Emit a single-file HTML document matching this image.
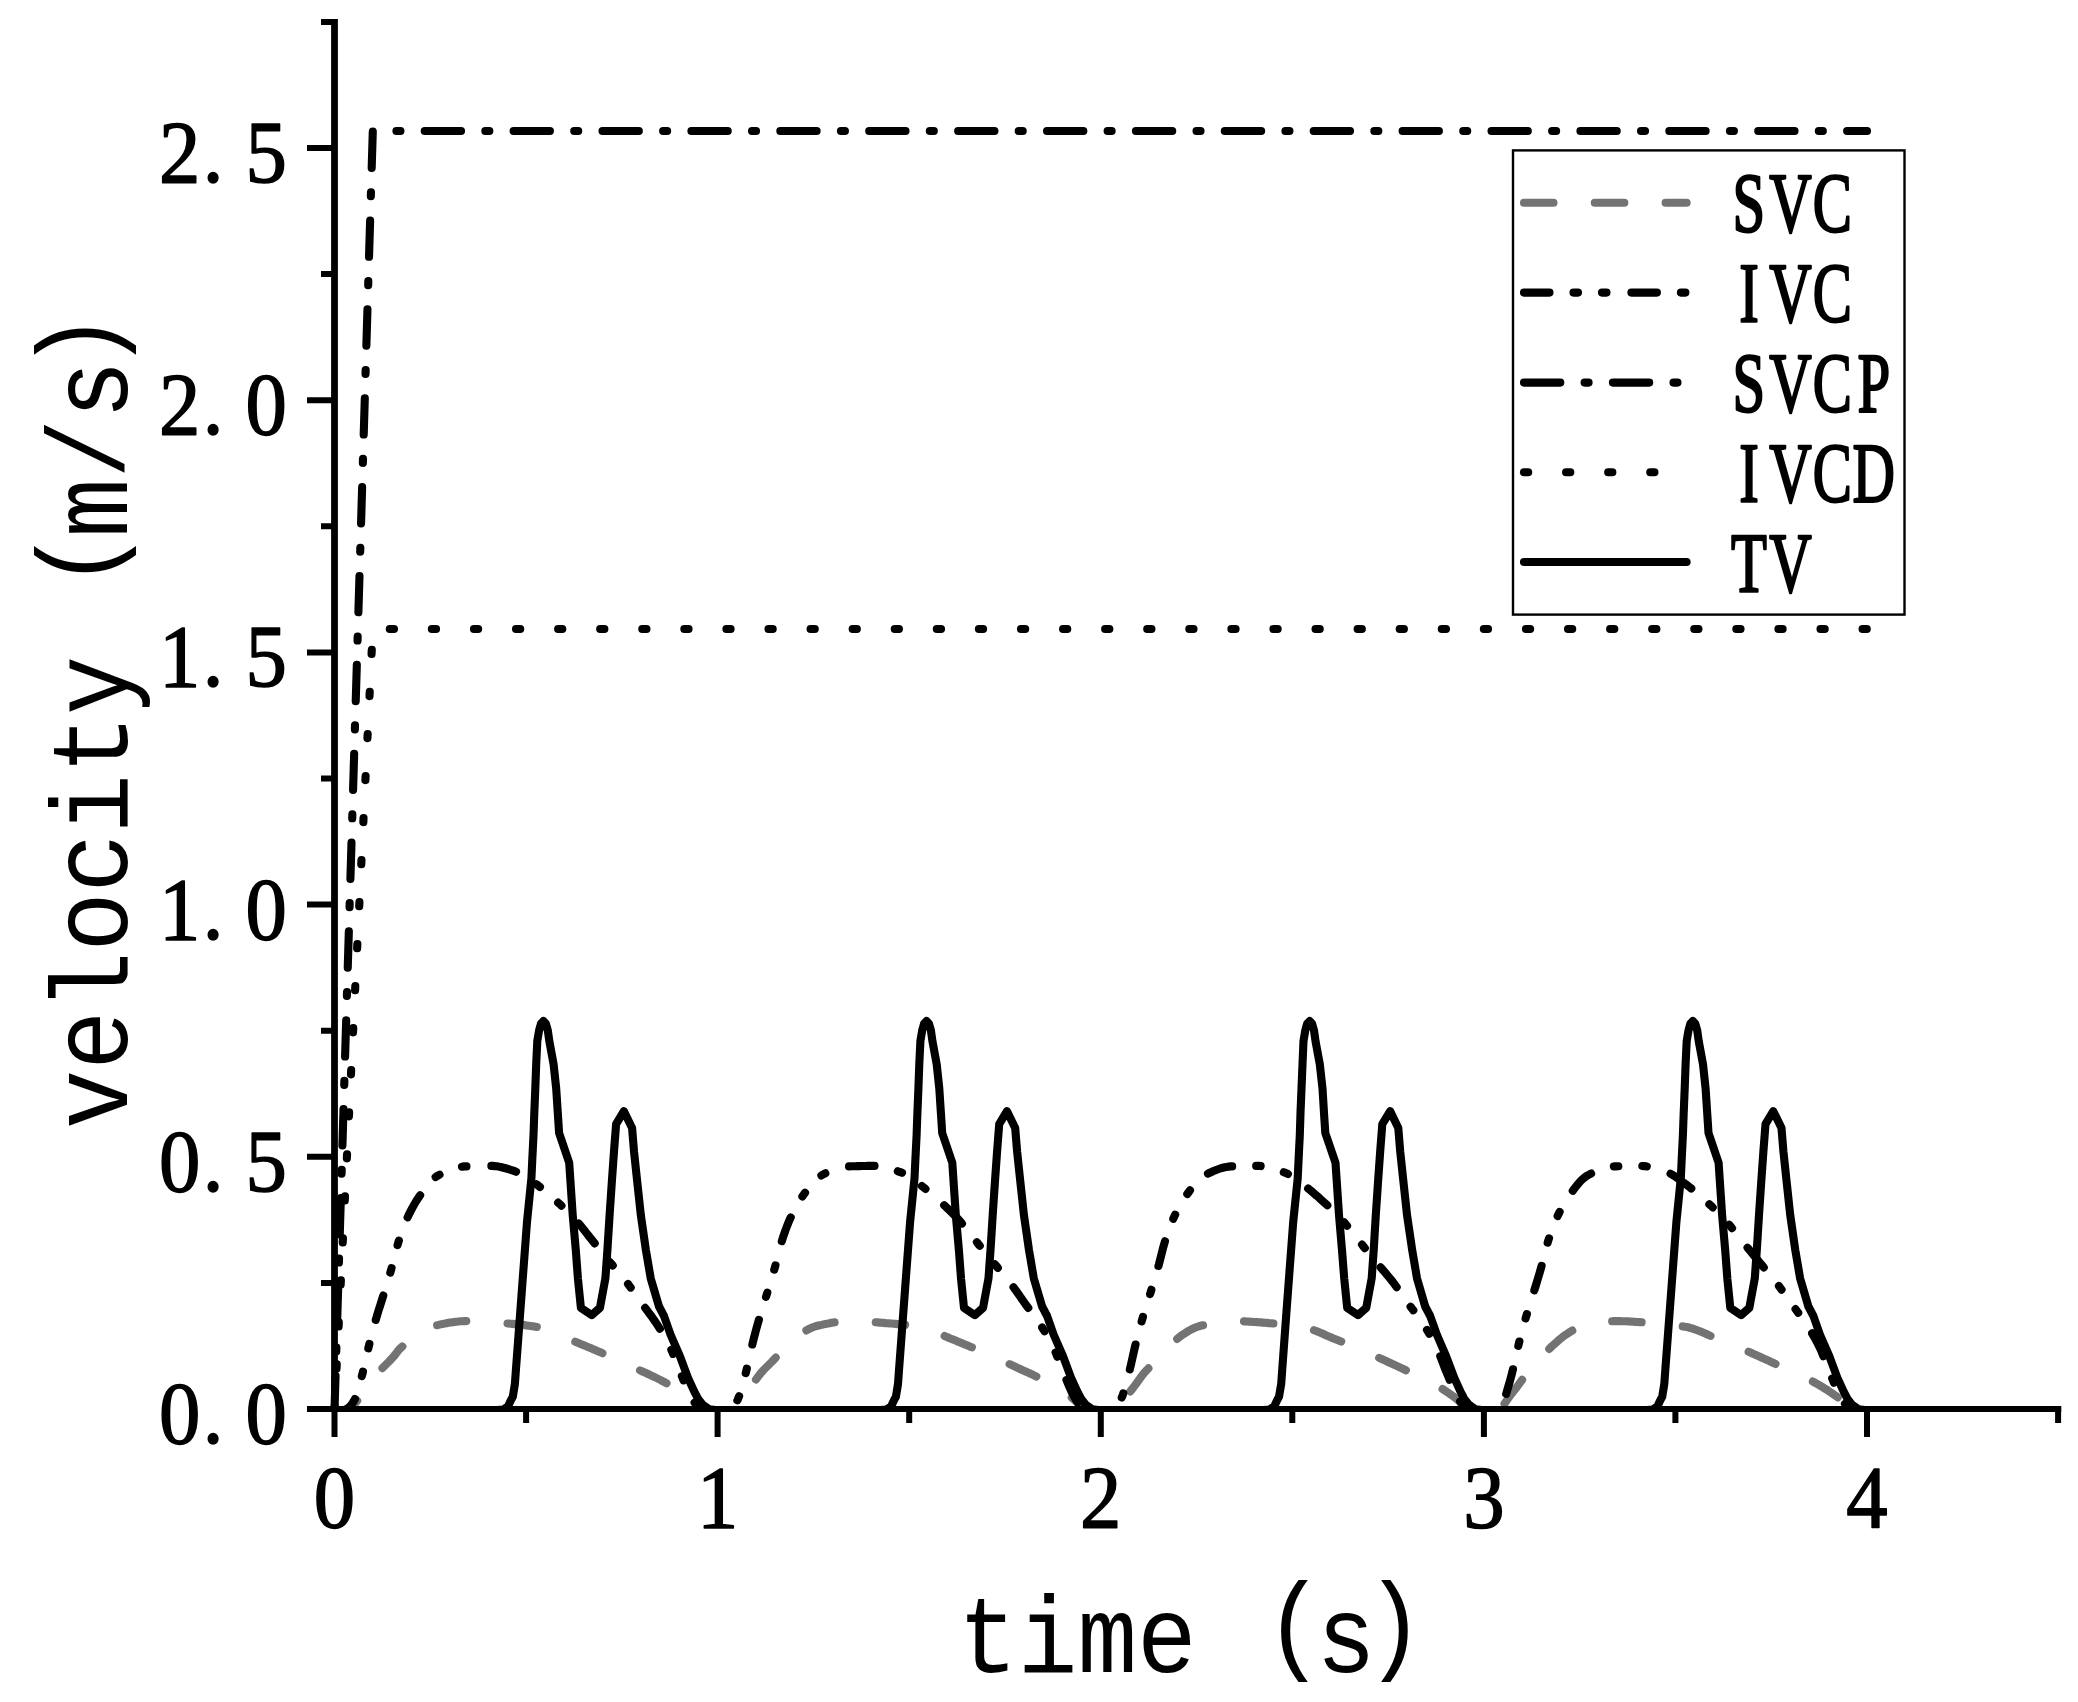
<!DOCTYPE html>
<html lang="en"><head><meta charset="utf-8"><title>velocity vs time</title>
<style>
html,body{margin:0;padding:0;background:#fff;overflow:hidden}
svg{display:block}
.c{fill:none;stroke:#000;stroke-width:8.1;stroke-linecap:round;stroke-linejoin:round}
.ax{fill:none;stroke:#000;stroke-width:6.4;stroke-linecap:butt}
.tk{fill:none;stroke:#000;stroke-width:6}
.num{font-family:"Liberation Serif",serif;font-size:88px;fill:#000;stroke:#000;stroke-width:1.5px;stroke-linejoin:round}
.ttl{font-family:"Liberation Mono",monospace;font-size:110px;fill:#000}
.lg{font-family:"Liberation Serif",serif;font-size:84px;fill:#000;stroke:#000;stroke-width:2.4px;stroke-linejoin:round}
</style></head><body>
<svg width="2078" height="1702" viewBox="0 0 2078 1702">
<rect width="2078" height="1702" fill="#fff"/>
<clipPath id="plotclip"><rect x="330" y="0" width="1748" height="1409"/></clipPath>
<g id="curves" clip-path="url(#plotclip)">
<path class="c" style="stroke:#737373" stroke-dasharray="29.5 41.3" stroke-dashoffset="3" d="M334.5,1410.3 L336.5,1410.3 L338.5,1410.3 L340.5,1410.3 L342.5,1410.3 L344.5,1410.3 L346.5,1410.0 L348.5,1409.3 L350.5,1408.2 L352.5,1406.5 L354.5,1404.4 L356.5,1401.7 L358.5,1398.8 L360.5,1396.0 L362.5,1393.4 L364.5,1390.8 L366.5,1388.2 L368.5,1385.6 L370.5,1382.9 L372.5,1380.1 L374.5,1377.2 L376.5,1374.6 L378.5,1372.2 L380.5,1370.0 L382.5,1368.0 L384.5,1366.0 L386.5,1364.0 L388.5,1362.0 L390.5,1359.9 L392.5,1357.8 L394.5,1355.5 L396.5,1352.8 L398.5,1350.2 L400.5,1348.2 L402.5,1346.3 L404.5,1344.5 L406.5,1342.7 L408.5,1340.9 L410.5,1339.2 L412.5,1337.6 L414.5,1336.1 L416.5,1334.6 L418.5,1333.3 L420.5,1332.0 L422.5,1330.8 L424.5,1329.7 L426.5,1328.7 L428.5,1327.8 L430.5,1327.0 L432.5,1326.3 L434.5,1325.8 L436.5,1325.3 L438.5,1324.9 L440.5,1324.4 L442.5,1324.0 L444.5,1323.6 L446.5,1323.2 L448.5,1322.8 L450.5,1322.5 L452.5,1322.2 L454.5,1321.9 L456.5,1321.7 L458.5,1321.5 L460.5,1321.3 L462.5,1321.2 L464.5,1321.1 L466.5,1321.1 L468.5,1321.1 L470.5,1321.1 L472.5,1321.2 L474.5,1321.2 L476.5,1321.3 L478.5,1321.4 L480.5,1321.5 L482.5,1321.6 L484.5,1321.7 L486.5,1321.9 L488.5,1322.0 L490.5,1322.1 L492.5,1322.3 L494.5,1322.4 L496.5,1322.6 L498.5,1322.8 L500.5,1322.9 L502.5,1323.1 L504.5,1323.2 L506.5,1323.4 L508.5,1323.5 L510.5,1323.7 L512.5,1323.9 L514.5,1324.1 L516.5,1324.3 L518.5,1324.5 L520.5,1324.7 L522.5,1324.9 L524.5,1325.1 L526.5,1325.4 L528.5,1325.7 L530.5,1326.0 L532.5,1326.3 L534.5,1326.6 L536.5,1326.9 L538.5,1327.3 L540.5,1327.8 L542.5,1328.4 L544.5,1329.0 L546.5,1329.7 L548.5,1330.5 L550.5,1331.2 L552.5,1332.1 L554.5,1332.9 L556.5,1333.8 L558.5,1334.7 L560.5,1335.6 L562.5,1336.5 L564.5,1337.3 L566.5,1338.2 L568.5,1339.0 L570.5,1339.8 L572.5,1340.6 L574.5,1341.4 L576.5,1342.2 L578.5,1343.1 L580.5,1343.9 L582.5,1344.7 L584.5,1345.5 L586.5,1346.4 L588.5,1347.2 L590.5,1348.0 L592.5,1348.9 L594.5,1349.7 L596.5,1350.6 L598.5,1351.5 L600.5,1352.3 L602.5,1353.2 L604.5,1354.1 L606.5,1355.0 L608.5,1355.9 L610.5,1356.8 L612.5,1357.7 L614.5,1358.6 L616.5,1359.5 L618.5,1360.4 L620.5,1361.3 L622.5,1362.3 L624.5,1363.2 L626.5,1364.1 L628.5,1365.0 L630.5,1366.0 L632.5,1366.9 L634.5,1367.9 L636.5,1368.8 L638.5,1369.7 L640.5,1370.6 L642.5,1371.5 L644.5,1372.4 L646.5,1373.3 L648.5,1374.2 L650.5,1375.2 L652.5,1376.1 L654.5,1377.0 L656.5,1378.0 L658.5,1379.0 L660.5,1380.0 L662.5,1381.1 L664.5,1382.1 L666.5,1383.2 L668.5,1384.4 L670.5,1385.5 L672.5,1386.7 L674.5,1388.0 L676.5,1389.2 L678.5,1390.5 L680.5,1391.9 L682.5,1393.2 L684.5,1394.6 L686.5,1396.0 L688.5,1397.5 L690.5,1399.2 L692.5,1400.9 L694.5,1402.6 L696.5,1404.2 L698.5,1405.5 L700.5,1406.8 L702.5,1408.0 L704.5,1409.0 L706.5,1409.5 L708.5,1409.7 L710.5,1410.0 L712.5,1410.1 L714.5,1410.2 L716.5,1410.3 L717.6,1410.3 L719.6,1410.3 L721.6,1410.3 L723.6,1410.3 L725.6,1410.3 L727.6,1410.3 L729.6,1410.0 L731.6,1409.3 L733.6,1408.2 L735.6,1406.5 L737.6,1404.4 L739.6,1401.7 L741.6,1398.8 L743.6,1396.0 L745.6,1393.4 L747.6,1390.8 L749.6,1388.2 L751.6,1385.6 L753.6,1382.9 L755.6,1380.1 L757.6,1377.2 L759.6,1374.6 L761.6,1372.2 L763.6,1370.0 L765.6,1368.0 L767.6,1366.0 L769.6,1364.0 L771.6,1362.0 L773.6,1359.9 L775.6,1357.8 L777.6,1355.5 L779.6,1352.8 L781.6,1350.2 L783.6,1348.2 L785.6,1346.3 L787.6,1344.5 L789.6,1342.7 L791.6,1340.9 L793.6,1339.2 L795.6,1337.6 L797.6,1336.1 L799.6,1334.6 L801.6,1333.3 L803.6,1332.0 L805.6,1330.8 L807.6,1329.7 L809.6,1328.7 L811.6,1327.8 L813.6,1327.0 L815.6,1326.3 L817.6,1325.8 L819.6,1325.3 L821.6,1324.9 L823.6,1324.4 L825.6,1324.0 L827.6,1323.6 L829.6,1323.2 L831.6,1322.8 L833.6,1322.5 L835.6,1322.2 L837.6,1321.9 L839.6,1321.7 L841.6,1321.5 L843.6,1321.3 L845.6,1321.2 L847.6,1321.1 L849.6,1321.1 L851.6,1321.1 L853.6,1321.1 L855.6,1321.2 L857.6,1321.2 L859.6,1321.3 L861.6,1321.4 L863.6,1321.5 L865.6,1321.6 L867.6,1321.7 L869.6,1321.9 L871.6,1322.0 L873.6,1322.1 L875.6,1322.3 L877.6,1322.4 L879.6,1322.6 L881.6,1322.8 L883.6,1322.9 L885.6,1323.1 L887.6,1323.2 L889.6,1323.4 L891.6,1323.5 L893.6,1323.7 L895.6,1323.9 L897.6,1324.1 L899.6,1324.3 L901.6,1324.5 L903.6,1324.7 L905.6,1324.9 L907.6,1325.1 L909.6,1325.4 L911.6,1325.7 L913.6,1326.0 L915.6,1326.3 L917.6,1326.6 L919.6,1326.9 L921.6,1327.3 L923.6,1327.8 L925.6,1328.4 L927.6,1329.0 L929.6,1329.7 L931.6,1330.5 L933.6,1331.2 L935.6,1332.1 L937.6,1332.9 L939.6,1333.8 L941.6,1334.7 L943.6,1335.6 L945.6,1336.5 L947.6,1337.3 L949.6,1338.2 L951.6,1339.0 L953.6,1339.8 L955.6,1340.6 L957.6,1341.4 L959.6,1342.2 L961.6,1343.1 L963.6,1343.9 L965.6,1344.7 L967.6,1345.5 L969.6,1346.4 L971.6,1347.2 L973.6,1348.0 L975.6,1348.9 L977.6,1349.7 L979.6,1350.6 L981.6,1351.5 L983.6,1352.3 L985.6,1353.2 L987.6,1354.1 L989.6,1355.0 L991.6,1355.9 L993.6,1356.8 L995.6,1357.7 L997.6,1358.6 L999.6,1359.5 L1001.6,1360.4 L1003.6,1361.3 L1005.6,1362.3 L1007.6,1363.2 L1009.6,1364.1 L1011.6,1365.0 L1013.6,1366.0 L1015.6,1366.9 L1017.6,1367.9 L1019.6,1368.8 L1021.6,1369.7 L1023.6,1370.6 L1025.6,1371.5 L1027.6,1372.4 L1029.6,1373.3 L1031.6,1374.2 L1033.6,1375.2 L1035.6,1376.1 L1037.6,1377.0 L1039.6,1378.0 L1041.6,1379.0 L1043.6,1380.0 L1045.6,1381.1 L1047.6,1382.1 L1049.6,1383.2 L1051.6,1384.4 L1053.6,1385.5 L1055.6,1386.7 L1057.6,1388.0 L1059.6,1389.2 L1061.6,1390.5 L1063.6,1391.9 L1065.6,1393.2 L1067.6,1394.6 L1069.6,1396.0 L1071.6,1397.5 L1073.6,1399.2 L1075.6,1400.9 L1077.6,1402.6 L1079.6,1404.2 L1081.6,1405.5 L1083.6,1406.8 L1085.6,1408.0 L1087.6,1409.0 L1089.6,1409.5 L1091.6,1409.7 L1093.6,1410.0 L1095.6,1410.1 L1097.6,1410.2 L1099.6,1410.3 L1100.7,1410.3 L1102.8,1410.3 L1104.8,1410.3 L1106.8,1410.3 L1108.8,1410.3 L1110.8,1410.3 L1112.8,1410.0 L1114.8,1409.3 L1116.8,1408.2 L1118.8,1406.5 L1120.8,1404.4 L1122.8,1401.7 L1124.8,1398.8 L1126.8,1396.0 L1128.8,1393.4 L1130.8,1390.8 L1132.8,1388.2 L1134.8,1385.6 L1136.8,1382.9 L1138.8,1380.1 L1140.8,1377.2 L1142.8,1374.6 L1144.8,1372.2 L1146.8,1370.0 L1148.8,1368.0 L1150.8,1366.0 L1152.8,1364.0 L1154.8,1362.0 L1156.8,1359.9 L1158.8,1357.8 L1160.8,1355.5 L1162.8,1352.8 L1164.8,1350.2 L1166.8,1348.2 L1168.8,1346.3 L1170.8,1344.5 L1172.8,1342.7 L1174.8,1340.9 L1176.8,1339.2 L1178.8,1337.6 L1180.8,1336.1 L1182.8,1334.6 L1184.8,1333.3 L1186.8,1332.0 L1188.8,1330.8 L1190.8,1329.7 L1192.8,1328.7 L1194.8,1327.8 L1196.8,1327.0 L1198.8,1326.3 L1200.8,1325.8 L1202.8,1325.3 L1204.8,1324.9 L1206.8,1324.4 L1208.8,1324.0 L1210.8,1323.6 L1212.8,1323.2 L1214.8,1322.8 L1216.8,1322.5 L1218.8,1322.2 L1220.8,1321.9 L1222.8,1321.7 L1224.8,1321.5 L1226.8,1321.3 L1228.8,1321.2 L1230.8,1321.1 L1232.8,1321.1 L1234.8,1321.1 L1236.8,1321.1 L1238.8,1321.2 L1240.8,1321.2 L1242.8,1321.3 L1244.8,1321.4 L1246.8,1321.5 L1248.8,1321.6 L1250.8,1321.7 L1252.8,1321.9 L1254.8,1322.0 L1256.8,1322.1 L1258.8,1322.3 L1260.8,1322.4 L1262.8,1322.6 L1264.8,1322.8 L1266.8,1322.9 L1268.8,1323.1 L1270.8,1323.2 L1272.8,1323.4 L1274.8,1323.5 L1276.8,1323.7 L1278.8,1323.9 L1280.8,1324.1 L1282.8,1324.3 L1284.8,1324.5 L1286.8,1324.7 L1288.8,1324.9 L1290.8,1325.1 L1292.8,1325.4 L1294.8,1325.7 L1296.8,1326.0 L1298.8,1326.3 L1300.8,1326.6 L1302.8,1326.9 L1304.8,1327.3 L1306.8,1327.8 L1308.8,1328.4 L1310.8,1329.0 L1312.8,1329.7 L1314.8,1330.5 L1316.8,1331.2 L1318.8,1332.1 L1320.8,1332.9 L1322.8,1333.8 L1324.8,1334.7 L1326.8,1335.6 L1328.8,1336.5 L1330.8,1337.3 L1332.8,1338.2 L1334.8,1339.0 L1336.8,1339.8 L1338.8,1340.6 L1340.8,1341.4 L1342.8,1342.2 L1344.8,1343.1 L1346.8,1343.9 L1348.8,1344.7 L1350.8,1345.5 L1352.8,1346.4 L1354.8,1347.2 L1356.8,1348.0 L1358.8,1348.9 L1360.8,1349.7 L1362.8,1350.6 L1364.8,1351.5 L1366.8,1352.3 L1368.8,1353.2 L1370.8,1354.1 L1372.8,1355.0 L1374.8,1355.9 L1376.8,1356.8 L1378.8,1357.7 L1380.8,1358.6 L1382.8,1359.5 L1384.8,1360.4 L1386.8,1361.3 L1388.8,1362.3 L1390.8,1363.2 L1392.8,1364.1 L1394.8,1365.0 L1396.8,1366.0 L1398.8,1366.9 L1400.8,1367.9 L1402.8,1368.8 L1404.8,1369.7 L1406.8,1370.6 L1408.8,1371.5 L1410.8,1372.4 L1412.8,1373.3 L1414.8,1374.2 L1416.8,1375.2 L1418.8,1376.1 L1420.8,1377.0 L1422.8,1378.0 L1424.8,1379.0 L1426.8,1380.0 L1428.8,1381.1 L1430.8,1382.1 L1432.8,1383.2 L1434.8,1384.4 L1436.8,1385.5 L1438.8,1386.7 L1440.8,1388.0 L1442.8,1389.2 L1444.8,1390.5 L1446.8,1391.9 L1448.8,1393.2 L1450.8,1394.6 L1452.8,1396.0 L1454.8,1397.5 L1456.8,1399.2 L1458.8,1400.9 L1460.8,1402.6 L1462.8,1404.2 L1464.8,1405.5 L1466.8,1406.8 L1468.8,1408.0 L1470.8,1409.0 L1472.8,1409.5 L1474.8,1409.7 L1476.8,1410.0 L1478.8,1410.1 L1480.8,1410.2 L1482.8,1410.3 L1483.8,1410.3 L1485.9,1410.3 L1487.9,1410.3 L1489.9,1410.3 L1491.9,1410.3 L1493.9,1410.3 L1495.9,1410.0 L1497.9,1409.3 L1499.9,1408.2 L1501.9,1406.5 L1503.9,1404.4 L1505.9,1401.7 L1507.9,1398.8 L1509.9,1396.0 L1511.9,1393.4 L1513.9,1390.8 L1515.9,1388.2 L1517.9,1385.6 L1519.9,1382.9 L1521.9,1380.1 L1523.9,1377.2 L1525.9,1374.6 L1527.9,1372.2 L1529.9,1370.0 L1531.9,1368.0 L1533.9,1366.0 L1535.9,1364.0 L1537.9,1362.0 L1539.9,1359.9 L1541.9,1357.8 L1543.9,1355.5 L1545.9,1352.8 L1547.9,1350.2 L1549.9,1348.2 L1551.9,1346.3 L1553.9,1344.5 L1555.9,1342.7 L1557.9,1340.9 L1559.9,1339.2 L1561.9,1337.6 L1563.9,1336.1 L1565.9,1334.6 L1567.9,1333.3 L1569.9,1332.0 L1571.9,1330.8 L1573.9,1329.7 L1575.9,1328.7 L1577.9,1327.8 L1579.9,1327.0 L1581.9,1326.3 L1583.9,1325.8 L1585.9,1325.3 L1587.9,1324.9 L1589.9,1324.4 L1591.9,1324.0 L1593.9,1323.6 L1595.9,1323.2 L1597.9,1322.8 L1599.9,1322.5 L1601.9,1322.2 L1603.9,1321.9 L1605.9,1321.7 L1607.9,1321.5 L1609.9,1321.3 L1611.9,1321.2 L1613.9,1321.1 L1615.9,1321.1 L1617.9,1321.1 L1619.9,1321.1 L1621.9,1321.2 L1623.9,1321.2 L1625.9,1321.3 L1627.9,1321.4 L1629.9,1321.5 L1631.9,1321.6 L1633.9,1321.7 L1635.9,1321.9 L1637.9,1322.0 L1639.9,1322.1 L1641.9,1322.3 L1643.9,1322.4 L1645.9,1322.6 L1647.9,1322.8 L1649.9,1322.9 L1651.9,1323.1 L1653.9,1323.2 L1655.9,1323.4 L1657.9,1323.5 L1659.9,1323.7 L1661.9,1323.9 L1663.9,1324.1 L1665.9,1324.3 L1667.9,1324.5 L1669.9,1324.7 L1671.9,1324.9 L1673.9,1325.1 L1675.9,1325.4 L1677.9,1325.7 L1679.9,1326.0 L1681.9,1326.3 L1683.9,1326.6 L1685.9,1326.9 L1687.9,1327.3 L1689.9,1327.8 L1691.9,1328.4 L1693.9,1329.0 L1695.9,1329.7 L1697.9,1330.5 L1699.9,1331.2 L1701.9,1332.1 L1703.9,1332.9 L1705.9,1333.8 L1707.9,1334.7 L1709.9,1335.6 L1711.9,1336.5 L1713.9,1337.3 L1715.9,1338.2 L1717.9,1339.0 L1719.9,1339.8 L1721.9,1340.6 L1723.9,1341.4 L1725.9,1342.2 L1727.9,1343.1 L1729.9,1343.9 L1731.9,1344.7 L1733.9,1345.5 L1735.9,1346.4 L1737.9,1347.2 L1739.9,1348.0 L1741.9,1348.9 L1743.9,1349.7 L1745.9,1350.6 L1747.9,1351.5 L1749.9,1352.3 L1751.9,1353.2 L1753.9,1354.1 L1755.9,1355.0 L1757.9,1355.9 L1759.9,1356.8 L1761.9,1357.7 L1763.9,1358.6 L1765.9,1359.5 L1767.9,1360.4 L1769.9,1361.3 L1771.9,1362.3 L1773.9,1363.2 L1775.9,1364.1 L1777.9,1365.0 L1779.9,1366.0 L1781.9,1366.9 L1783.9,1367.9 L1785.9,1368.8 L1787.9,1369.7 L1789.9,1370.6 L1791.9,1371.5 L1793.9,1372.4 L1795.9,1373.3 L1797.9,1374.2 L1799.9,1375.2 L1801.9,1376.1 L1803.9,1377.0 L1805.9,1378.0 L1807.9,1379.0 L1809.9,1380.0 L1811.9,1381.1 L1813.9,1382.1 L1815.9,1383.2 L1817.9,1384.4 L1819.9,1385.5 L1821.9,1386.7 L1823.9,1388.0 L1825.9,1389.2 L1827.9,1390.5 L1829.9,1391.9 L1831.9,1393.2 L1833.9,1394.6 L1835.9,1396.0 L1837.9,1397.5 L1839.9,1399.2 L1841.9,1400.9 L1843.9,1402.6 L1845.9,1404.2 L1847.9,1405.5 L1849.9,1406.8 L1851.9,1408.0 L1853.9,1409.0 L1855.9,1409.5 L1857.9,1409.7 L1859.9,1410.0 L1861.9,1410.1 L1863.9,1410.2 L1865.9,1410.3 L1867.0,1410.3"/>
<path class="c" stroke-dasharray="25.5 24 4.5 24 4.5 24.9" stroke-dashoffset="0" d="M334.5,1410.3 L336.5,1410.3 L338.5,1410.3 L340.5,1410.3 L342.5,1410.3 L344.5,1409.9 L346.5,1409.0 L348.5,1407.8 L350.5,1405.7 L352.5,1403.2 L354.5,1400.0 L356.5,1394.9 L358.5,1388.0 L360.5,1381.1 L362.5,1373.6 L364.5,1365.4 L366.5,1356.4 L368.5,1347.5 L370.5,1339.3 L372.5,1331.6 L374.5,1324.3 L376.5,1317.3 L378.5,1310.7 L380.5,1304.4 L382.5,1298.1 L384.5,1291.7 L386.5,1285.2 L388.5,1278.6 L390.5,1271.9 L392.5,1264.8 L394.5,1256.9 L396.5,1248.9 L398.5,1241.8 L400.5,1235.6 L402.5,1229.9 L404.5,1224.6 L406.5,1219.8 L408.5,1215.4 L410.5,1211.4 L412.5,1207.6 L414.5,1204.0 L416.5,1200.7 L418.5,1197.6 L420.5,1194.7 L422.5,1192.0 L424.5,1189.2 L426.5,1186.6 L428.5,1184.1 L430.5,1181.8 L432.5,1179.7 L434.5,1177.9 L436.5,1176.4 L438.5,1175.3 L440.5,1174.2 L442.5,1173.2 L444.5,1172.3 L446.5,1171.3 L448.5,1170.5 L450.5,1169.7 L452.5,1169.0 L454.5,1168.3 L456.5,1167.8 L458.5,1167.3 L460.5,1166.9 L462.5,1166.6 L464.5,1166.4 L466.5,1166.4 L468.5,1166.3 L470.5,1166.2 L472.5,1166.2 L474.5,1166.1 L476.5,1166.1 L478.5,1166.0 L480.5,1166.0 L482.5,1166.0 L484.5,1165.9 L486.5,1165.9 L488.5,1165.9 L490.5,1165.9 L492.5,1165.9 L494.5,1166.1 L496.5,1166.3 L498.5,1166.6 L500.5,1167.0 L502.5,1167.5 L504.5,1168.0 L506.5,1168.5 L508.5,1169.1 L510.5,1169.8 L512.5,1170.4 L514.5,1171.1 L516.5,1171.9 L518.5,1172.6 L520.5,1173.4 L522.5,1174.5 L524.5,1175.7 L526.5,1177.0 L528.5,1178.4 L530.5,1179.9 L532.5,1181.4 L534.5,1182.9 L536.5,1184.3 L538.5,1185.8 L540.5,1187.4 L542.5,1189.0 L544.5,1190.7 L546.5,1192.4 L548.5,1194.1 L550.5,1195.8 L552.5,1197.6 L554.5,1199.4 L556.5,1201.2 L558.5,1203.0 L560.5,1204.8 L562.5,1206.6 L564.5,1208.5 L566.5,1210.4 L568.5,1212.4 L570.5,1214.4 L572.5,1216.4 L574.5,1218.5 L576.5,1220.7 L578.5,1223.1 L580.5,1225.5 L582.5,1228.0 L584.5,1230.5 L586.5,1233.1 L588.5,1235.6 L590.5,1238.2 L592.5,1240.6 L594.5,1243.1 L596.5,1245.6 L598.5,1248.1 L600.5,1250.5 L602.5,1253.0 L604.5,1255.5 L606.5,1257.9 L608.5,1260.4 L610.5,1262.8 L612.5,1265.2 L614.5,1267.5 L616.5,1269.9 L618.5,1272.2 L620.5,1274.6 L622.5,1277.0 L624.5,1279.4 L626.5,1281.9 L628.5,1284.6 L630.5,1287.3 L632.5,1290.1 L634.5,1292.9 L636.5,1295.8 L638.5,1298.6 L640.5,1301.5 L642.5,1304.3 L644.5,1307.0 L646.5,1309.6 L648.5,1312.3 L650.5,1315.0 L652.5,1317.7 L654.5,1320.6 L656.5,1323.5 L658.5,1326.6 L660.5,1329.7 L662.5,1333.0 L664.5,1336.5 L666.5,1340.1 L668.5,1343.9 L670.5,1347.9 L672.5,1352.5 L674.5,1357.5 L676.5,1362.7 L678.5,1368.0 L680.5,1373.0 L682.5,1377.8 L684.5,1382.7 L686.5,1387.4 L688.5,1391.8 L690.5,1395.7 L692.5,1399.3 L694.5,1402.6 L696.5,1405.0 L698.5,1406.6 L700.5,1408.0 L702.5,1409.0 L704.5,1409.5 L706.5,1409.7 L708.5,1409.9 L710.5,1410.1 L712.5,1410.2 L714.5,1410.3 L716.5,1410.3 L717.6,1410.3 L719.6,1410.3 L721.6,1410.3 L723.6,1410.3 L725.6,1410.3 L727.6,1409.9 L729.6,1409.0 L731.6,1407.8 L733.6,1405.7 L735.6,1403.2 L737.6,1400.0 L739.6,1394.9 L741.6,1388.0 L743.6,1381.1 L745.6,1373.6 L747.6,1365.4 L749.6,1356.4 L751.6,1347.5 L753.6,1339.3 L755.6,1331.6 L757.6,1324.3 L759.6,1317.3 L761.6,1310.7 L763.6,1304.4 L765.6,1298.1 L767.6,1291.7 L769.6,1285.2 L771.6,1278.6 L773.6,1271.9 L775.6,1264.8 L777.6,1256.9 L779.6,1248.9 L781.6,1241.8 L783.6,1235.6 L785.6,1229.9 L787.6,1224.6 L789.6,1219.8 L791.6,1215.4 L793.6,1211.4 L795.6,1207.6 L797.6,1204.0 L799.6,1200.7 L801.6,1197.6 L803.6,1194.7 L805.6,1192.0 L807.6,1189.2 L809.6,1186.6 L811.6,1184.1 L813.6,1181.8 L815.6,1179.7 L817.6,1177.9 L819.6,1176.4 L821.6,1175.3 L823.6,1174.2 L825.6,1173.2 L827.6,1172.3 L829.6,1171.3 L831.6,1170.5 L833.6,1169.7 L835.6,1169.0 L837.6,1168.3 L839.6,1167.8 L841.6,1167.3 L843.6,1166.9 L845.6,1166.6 L847.6,1166.4 L849.6,1166.4 L851.6,1166.3 L853.6,1166.2 L855.6,1166.2 L857.6,1166.1 L859.6,1166.1 L861.6,1166.0 L863.6,1166.0 L865.6,1166.0 L867.6,1165.9 L869.6,1165.9 L871.6,1165.9 L873.6,1165.9 L875.6,1165.9 L877.6,1166.1 L879.6,1166.3 L881.6,1166.6 L883.6,1167.0 L885.6,1167.5 L887.6,1168.0 L889.6,1168.5 L891.6,1169.1 L893.6,1169.8 L895.6,1170.4 L897.6,1171.1 L899.6,1171.9 L901.6,1172.6 L903.6,1173.4 L905.6,1174.5 L907.6,1175.7 L909.6,1177.0 L911.6,1178.4 L913.6,1179.9 L915.6,1181.4 L917.6,1182.9 L919.6,1184.3 L921.6,1185.8 L923.6,1187.4 L925.6,1189.0 L927.6,1190.7 L929.6,1192.4 L931.6,1194.1 L933.6,1195.8 L935.6,1197.6 L937.6,1199.4 L939.6,1201.2 L941.6,1203.0 L943.6,1204.8 L945.6,1206.6 L947.6,1208.5 L949.6,1210.4 L951.6,1212.4 L953.6,1214.4 L955.6,1216.4 L957.6,1218.5 L959.6,1220.7 L961.6,1223.1 L963.6,1225.5 L965.6,1228.0 L967.6,1230.5 L969.6,1233.1 L971.6,1235.6 L973.6,1238.2 L975.6,1240.6 L977.6,1243.1 L979.6,1245.6 L981.6,1248.1 L983.6,1250.5 L985.6,1253.0 L987.6,1255.5 L989.6,1257.9 L991.6,1260.4 L993.6,1262.8 L995.6,1265.2 L997.6,1267.5 L999.6,1269.9 L1001.6,1272.2 L1003.6,1274.6 L1005.6,1277.0 L1007.6,1279.4 L1009.6,1281.9 L1011.6,1284.6 L1013.6,1287.3 L1015.6,1290.1 L1017.6,1292.9 L1019.6,1295.8 L1021.6,1298.6 L1023.6,1301.5 L1025.6,1304.3 L1027.6,1307.0 L1029.6,1309.6 L1031.6,1312.3 L1033.6,1315.0 L1035.6,1317.7 L1037.6,1320.6 L1039.6,1323.5 L1041.6,1326.6 L1043.6,1329.7 L1045.6,1333.0 L1047.6,1336.5 L1049.6,1340.1 L1051.6,1343.9 L1053.6,1347.9 L1055.6,1352.5 L1057.6,1357.5 L1059.6,1362.7 L1061.6,1368.0 L1063.6,1373.0 L1065.6,1377.8 L1067.6,1382.7 L1069.6,1387.4 L1071.6,1391.8 L1073.6,1395.7 L1075.6,1399.3 L1077.6,1402.6 L1079.6,1405.0 L1081.6,1406.6 L1083.6,1408.0 L1085.6,1409.0 L1087.6,1409.5 L1089.6,1409.7 L1091.6,1409.9 L1093.6,1410.1 L1095.6,1410.2 L1097.6,1410.3 L1099.6,1410.3 L1100.7,1410.3 L1102.8,1410.3 L1104.8,1410.3 L1106.8,1410.3 L1108.8,1410.3 L1110.8,1409.9 L1112.8,1409.0 L1114.8,1407.8 L1116.8,1405.7 L1118.8,1403.2 L1120.8,1400.0 L1122.8,1394.9 L1124.8,1388.0 L1126.8,1381.1 L1128.8,1373.6 L1130.8,1365.4 L1132.8,1356.4 L1134.8,1347.5 L1136.8,1339.3 L1138.8,1331.6 L1140.8,1324.3 L1142.8,1317.3 L1144.8,1310.7 L1146.8,1304.4 L1148.8,1298.1 L1150.8,1291.7 L1152.8,1285.2 L1154.8,1278.6 L1156.8,1271.9 L1158.8,1264.8 L1160.8,1256.9 L1162.8,1248.9 L1164.8,1241.8 L1166.8,1235.6 L1168.8,1229.9 L1170.8,1224.6 L1172.8,1219.8 L1174.8,1215.4 L1176.8,1211.4 L1178.8,1207.6 L1180.8,1204.0 L1182.8,1200.7 L1184.8,1197.6 L1186.8,1194.7 L1188.8,1192.0 L1190.8,1189.2 L1192.8,1186.6 L1194.8,1184.1 L1196.8,1181.8 L1198.8,1179.7 L1200.8,1177.9 L1202.8,1176.4 L1204.8,1175.3 L1206.8,1174.2 L1208.8,1173.2 L1210.8,1172.3 L1212.8,1171.3 L1214.8,1170.5 L1216.8,1169.7 L1218.8,1169.0 L1220.8,1168.3 L1222.8,1167.8 L1224.8,1167.3 L1226.8,1166.9 L1228.8,1166.6 L1230.8,1166.4 L1232.8,1166.4 L1234.8,1166.3 L1236.8,1166.2 L1238.8,1166.2 L1240.8,1166.1 L1242.8,1166.1 L1244.8,1166.0 L1246.8,1166.0 L1248.8,1166.0 L1250.8,1165.9 L1252.8,1165.9 L1254.8,1165.9 L1256.8,1165.9 L1258.8,1165.9 L1260.8,1166.1 L1262.8,1166.3 L1264.8,1166.6 L1266.8,1167.0 L1268.8,1167.5 L1270.8,1168.0 L1272.8,1168.5 L1274.8,1169.1 L1276.8,1169.8 L1278.8,1170.4 L1280.8,1171.1 L1282.8,1171.9 L1284.8,1172.6 L1286.8,1173.4 L1288.8,1174.5 L1290.8,1175.7 L1292.8,1177.0 L1294.8,1178.4 L1296.8,1179.9 L1298.8,1181.4 L1300.8,1182.9 L1302.8,1184.3 L1304.8,1185.8 L1306.8,1187.4 L1308.8,1189.0 L1310.8,1190.7 L1312.8,1192.4 L1314.8,1194.1 L1316.8,1195.8 L1318.8,1197.6 L1320.8,1199.4 L1322.8,1201.2 L1324.8,1203.0 L1326.8,1204.8 L1328.8,1206.6 L1330.8,1208.5 L1332.8,1210.4 L1334.8,1212.4 L1336.8,1214.4 L1338.8,1216.4 L1340.8,1218.5 L1342.8,1220.7 L1344.8,1223.1 L1346.8,1225.5 L1348.8,1228.0 L1350.8,1230.5 L1352.8,1233.1 L1354.8,1235.6 L1356.8,1238.2 L1358.8,1240.6 L1360.8,1243.1 L1362.8,1245.6 L1364.8,1248.1 L1366.8,1250.5 L1368.8,1253.0 L1370.8,1255.5 L1372.8,1257.9 L1374.8,1260.4 L1376.8,1262.8 L1378.8,1265.2 L1380.8,1267.5 L1382.8,1269.9 L1384.8,1272.2 L1386.8,1274.6 L1388.8,1277.0 L1390.8,1279.4 L1392.8,1281.9 L1394.8,1284.6 L1396.8,1287.3 L1398.8,1290.1 L1400.8,1292.9 L1402.8,1295.8 L1404.8,1298.6 L1406.8,1301.5 L1408.8,1304.3 L1410.8,1307.0 L1412.8,1309.6 L1414.8,1312.3 L1416.8,1315.0 L1418.8,1317.7 L1420.8,1320.6 L1422.8,1323.5 L1424.8,1326.6 L1426.8,1329.7 L1428.8,1333.0 L1430.8,1336.5 L1432.8,1340.1 L1434.8,1343.9 L1436.8,1347.9 L1438.8,1352.5 L1440.8,1357.5 L1442.8,1362.7 L1444.8,1368.0 L1446.8,1373.0 L1448.8,1377.8 L1450.8,1382.7 L1452.8,1387.4 L1454.8,1391.8 L1456.8,1395.7 L1458.8,1399.3 L1460.8,1402.6 L1462.8,1405.0 L1464.8,1406.6 L1466.8,1408.0 L1468.8,1409.0 L1470.8,1409.5 L1472.8,1409.7 L1474.8,1409.9 L1476.8,1410.1 L1478.8,1410.2 L1480.8,1410.3 L1482.8,1410.3 L1483.8,1410.3 L1485.9,1410.3 L1487.9,1410.3 L1489.9,1410.3 L1491.9,1410.3 L1493.9,1409.9 L1495.9,1409.0 L1497.9,1407.8 L1499.9,1405.7 L1501.9,1403.2 L1503.9,1400.0 L1505.9,1394.9 L1507.9,1388.0 L1509.9,1381.1 L1511.9,1373.6 L1513.9,1365.4 L1515.9,1356.4 L1517.9,1347.5 L1519.9,1339.3 L1521.9,1331.6 L1523.9,1324.3 L1525.9,1317.3 L1527.9,1310.7 L1529.9,1304.4 L1531.9,1298.1 L1533.9,1291.7 L1535.9,1285.2 L1537.9,1278.6 L1539.9,1271.9 L1541.9,1264.8 L1543.9,1256.9 L1545.9,1248.9 L1547.9,1241.8 L1549.9,1235.6 L1551.9,1229.9 L1553.9,1224.6 L1555.9,1219.8 L1557.9,1215.4 L1559.9,1211.4 L1561.9,1207.6 L1563.9,1204.0 L1565.9,1200.7 L1567.9,1197.6 L1569.9,1194.7 L1571.9,1192.0 L1573.9,1189.2 L1575.9,1186.6 L1577.9,1184.1 L1579.9,1181.8 L1581.9,1179.7 L1583.9,1177.9 L1585.9,1176.4 L1587.9,1175.3 L1589.9,1174.2 L1591.9,1173.2 L1593.9,1172.3 L1595.9,1171.3 L1597.9,1170.5 L1599.9,1169.7 L1601.9,1169.0 L1603.9,1168.3 L1605.9,1167.8 L1607.9,1167.3 L1609.9,1166.9 L1611.9,1166.6 L1613.9,1166.4 L1615.9,1166.4 L1617.9,1166.3 L1619.9,1166.2 L1621.9,1166.2 L1623.9,1166.1 L1625.9,1166.1 L1627.9,1166.0 L1629.9,1166.0 L1631.9,1166.0 L1633.9,1165.9 L1635.9,1165.9 L1637.9,1165.9 L1639.9,1165.9 L1641.9,1165.9 L1643.9,1166.1 L1645.9,1166.3 L1647.9,1166.6 L1649.9,1167.0 L1651.9,1167.5 L1653.9,1168.0 L1655.9,1168.5 L1657.9,1169.1 L1659.9,1169.8 L1661.9,1170.4 L1663.9,1171.1 L1665.9,1171.9 L1667.9,1172.6 L1669.9,1173.4 L1671.9,1174.5 L1673.9,1175.7 L1675.9,1177.0 L1677.9,1178.4 L1679.9,1179.9 L1681.9,1181.4 L1683.9,1182.9 L1685.9,1184.3 L1687.9,1185.8 L1689.9,1187.4 L1691.9,1189.0 L1693.9,1190.7 L1695.9,1192.4 L1697.9,1194.1 L1699.9,1195.8 L1701.9,1197.6 L1703.9,1199.4 L1705.9,1201.2 L1707.9,1203.0 L1709.9,1204.8 L1711.9,1206.6 L1713.9,1208.5 L1715.9,1210.4 L1717.9,1212.4 L1719.9,1214.4 L1721.9,1216.4 L1723.9,1218.5 L1725.9,1220.7 L1727.9,1223.1 L1729.9,1225.5 L1731.9,1228.0 L1733.9,1230.5 L1735.9,1233.1 L1737.9,1235.6 L1739.9,1238.2 L1741.9,1240.6 L1743.9,1243.1 L1745.9,1245.6 L1747.9,1248.1 L1749.9,1250.5 L1751.9,1253.0 L1753.9,1255.5 L1755.9,1257.9 L1757.9,1260.4 L1759.9,1262.8 L1761.9,1265.2 L1763.9,1267.5 L1765.9,1269.9 L1767.9,1272.2 L1769.9,1274.6 L1771.9,1277.0 L1773.9,1279.4 L1775.9,1281.9 L1777.9,1284.6 L1779.9,1287.3 L1781.9,1290.1 L1783.9,1292.9 L1785.9,1295.8 L1787.9,1298.6 L1789.9,1301.5 L1791.9,1304.3 L1793.9,1307.0 L1795.9,1309.6 L1797.9,1312.3 L1799.9,1315.0 L1801.9,1317.7 L1803.9,1320.6 L1805.9,1323.5 L1807.9,1326.6 L1809.9,1329.7 L1811.9,1333.0 L1813.9,1336.5 L1815.9,1340.1 L1817.9,1343.9 L1819.9,1347.9 L1821.9,1352.5 L1823.9,1357.5 L1825.9,1362.7 L1827.9,1368.0 L1829.9,1373.0 L1831.9,1377.8 L1833.9,1382.7 L1835.9,1387.4 L1837.9,1391.8 L1839.9,1395.7 L1841.9,1399.3 L1843.9,1402.6 L1845.9,1405.0 L1847.9,1406.6 L1849.9,1408.0 L1851.9,1409.0 L1853.9,1409.5 L1855.9,1409.7 L1857.9,1409.9 L1859.9,1410.1 L1861.9,1410.2 L1863.9,1410.3 L1865.9,1410.3 L1867.0,1410.3"/>
<path class="c" stroke-dasharray="36.3 24.3 4 24.3" stroke-dashoffset="1.7" d="M334.5,1410.3 L372.8,131.0 L1867.0,131.0"/>
<path class="c" stroke-dasharray="4.2 37.88" stroke-dashoffset="0.3" d="M334.5,1410.3 L372.8,629.0 L1867.0,629.0"/>
<path class="c" d="M334.5,1410.3 L494.5,1410.3 L503.0,1409.6 L508.0,1406.5 L511.0,1400.0 L512.8,1396.8 L514.9,1384.0 L515.9,1370.0 L519.6,1320.7 L523.3,1271.3 L527.0,1222.0 L531.4,1178.4 L532.4,1157.3 L533.5,1135.1 L534.3,1112.9 L535.3,1088.5 L536.2,1064.2 L537.3,1041.0 L539.1,1030.4 L541.0,1023.5 L543.4,1021.0 L545.8,1023.5 L547.8,1030.4 L549.3,1041.0 L553.6,1064.2 L556.2,1088.5 L557.8,1112.9 L559.1,1133.0 L569.2,1162.7 L572.7,1214.9 L575.8,1250.1 L577.9,1278.3 L580.9,1307.9 L591.7,1315.1 L599.9,1307.9 L605.4,1278.3 L607.4,1250.1 L609.6,1214.9 L612.0,1179.6 L614.0,1151.4 L616.1,1124.2 L623.9,1111.2 L632.1,1128.1 L634.0,1151.4 L637.0,1179.6 L640.8,1214.9 L645.9,1250.1 L650.7,1278.3 L659.0,1306.5 L664.0,1316.0 L670.5,1334.5 L680.0,1356.4 L687.9,1377.6 L694.3,1391.7 L698.0,1398.7 L702.5,1404.5 L709.2,1409.3 L717.6,1410.3 L877.6,1410.3 L886.1,1409.6 L891.1,1406.5 L894.1,1400.0 L895.9,1396.8 L898.0,1384.0 L899.0,1370.0 L902.7,1320.7 L906.4,1271.3 L910.1,1222.0 L914.5,1178.4 L915.5,1157.3 L916.6,1135.1 L917.4,1112.9 L918.4,1088.5 L919.3,1064.2 L920.4,1041.0 L922.2,1030.4 L924.1,1023.5 L926.5,1021.0 L928.9,1023.5 L930.9,1030.4 L932.4,1041.0 L936.7,1064.2 L939.3,1088.5 L940.9,1112.9 L942.2,1133.0 L952.3,1162.7 L955.8,1214.9 L958.9,1250.1 L961.0,1278.3 L964.0,1307.9 L974.8,1315.1 L983.0,1307.9 L988.5,1278.3 L990.5,1250.1 L992.7,1214.9 L995.1,1179.6 L997.1,1151.4 L999.2,1124.2 L1007.0,1111.2 L1015.2,1128.1 L1017.1,1151.4 L1020.1,1179.6 L1023.9,1214.9 L1029.0,1250.1 L1033.8,1278.3 L1042.1,1306.5 L1047.1,1316.0 L1053.6,1334.5 L1063.1,1356.4 L1071.0,1377.6 L1077.4,1391.7 L1081.1,1398.7 L1085.6,1404.5 L1092.3,1409.3 L1100.7,1410.3 L1260.8,1410.3 L1269.2,1409.6 L1274.2,1406.5 L1277.2,1400.0 L1279.0,1396.8 L1281.2,1384.0 L1282.2,1370.0 L1285.8,1320.7 L1289.5,1271.3 L1293.2,1222.0 L1297.7,1178.4 L1298.7,1157.3 L1299.8,1135.1 L1300.5,1112.9 L1301.5,1088.5 L1302.5,1064.2 L1303.5,1041.0 L1305.3,1030.4 L1307.2,1023.5 L1309.7,1021.0 L1312.0,1023.5 L1314.0,1030.4 L1315.5,1041.0 L1319.8,1064.2 L1322.5,1088.5 L1324.0,1112.9 L1325.3,1133.0 L1335.5,1162.7 L1339.0,1214.9 L1342.0,1250.1 L1344.2,1278.3 L1347.2,1307.9 L1358.0,1315.1 L1366.2,1307.9 L1371.7,1278.3 L1373.7,1250.1 L1375.8,1214.9 L1378.2,1179.6 L1380.2,1151.4 L1382.3,1124.2 L1390.2,1111.2 L1398.3,1128.1 L1400.2,1151.4 L1403.2,1179.6 L1407.0,1214.9 L1412.2,1250.1 L1417.0,1278.3 L1425.2,1306.5 L1430.2,1316.0 L1436.8,1334.5 L1446.2,1356.4 L1454.2,1377.6 L1460.5,1391.7 L1464.2,1398.7 L1468.8,1404.5 L1475.5,1409.3 L1483.8,1410.3 L1643.9,1410.3 L1652.4,1409.6 L1657.4,1406.5 L1660.4,1400.0 L1662.2,1396.8 L1664.3,1384.0 L1665.3,1370.0 L1669.0,1320.7 L1672.7,1271.3 L1676.4,1222.0 L1680.8,1178.4 L1681.8,1157.3 L1682.9,1135.1 L1683.7,1112.9 L1684.7,1088.5 L1685.6,1064.2 L1686.7,1041.0 L1688.5,1030.4 L1690.4,1023.5 L1692.8,1021.0 L1695.2,1023.5 L1697.2,1030.4 L1698.7,1041.0 L1703.0,1064.2 L1705.6,1088.5 L1707.2,1112.9 L1708.5,1133.0 L1718.6,1162.7 L1722.1,1214.9 L1725.2,1250.1 L1727.3,1278.3 L1730.3,1307.9 L1741.1,1315.1 L1749.3,1307.9 L1754.8,1278.3 L1756.8,1250.1 L1759.0,1214.9 L1761.4,1179.6 L1763.4,1151.4 L1765.5,1124.2 L1773.3,1111.2 L1781.5,1128.1 L1783.4,1151.4 L1786.4,1179.6 L1790.2,1214.9 L1795.3,1250.1 L1800.1,1278.3 L1808.4,1306.5 L1813.4,1316.0 L1819.9,1334.5 L1829.4,1356.4 L1837.3,1377.6 L1843.7,1391.7 L1847.4,1398.7 L1851.9,1404.5 L1858.6,1409.3 L1867.0,1410.3"/>
</g>
<g id="axes">
<path class="ax" style="stroke-width:6.8" d="M334.5,19 V1412"/>
<path class="ax" style="stroke-width:5.9" d="M331.1,1409 H2061.3"/>
<path class="tk" d="M307,1409.0 H332 M307,1156.8 H332 M307,904.6 H332 M307,652.4 H332 M307,400.2 H332 M307,148.0 H332 M321,1282.9 H332 M321,1030.7 H332 M321,778.5 H332 M321,526.3 H332 M321,274.1 H332 M321,21.9 H332 M334.5,1411 V1437 M717.6,1411 V1437 M1100.8,1411 V1437 M1483.9,1411 V1437 M1867.0,1411 V1437 M526.1,1411 V1423 M909.2,1411 V1423 M1292.3,1411 V1423 M1675.4,1411 V1423 M2058.1,1411 V1423"/>
</g>
<g id="ticklabels" class="num">
<text transform="scale(0.94,1)" x="169.1 215.6 261.3" y="1443.0">0.0</text>
<text transform="scale(0.94,1)" x="169.1 215.6 261.3" y="1190.8">0.5</text>
<text transform="scale(0.94,1)" x="169.1 215.6 261.3" y="938.6">1.0</text>
<text transform="scale(0.94,1)" x="169.1 215.6 261.3" y="686.4">1.5</text>
<text transform="scale(0.94,1)" x="169.1 215.6 261.3" y="434.2">2.0</text>
<text transform="scale(0.94,1)" x="169.1 215.6 261.3" y="182.0">2.5</text>
<text transform="scale(0.94,1)" x="333.9" y="1527.5">0</text>
<text transform="scale(0.94,1)" x="741.4" y="1527.5">1</text>
<text transform="scale(0.94,1)" x="1149.0" y="1527.5">2</text>
<text transform="scale(0.94,1)" x="1556.6" y="1527.5">3</text>
<text transform="scale(0.94,1)" x="1964.2" y="1527.5">4</text>
</g>
<text class="ttl" transform="translate(958,1672) scale(0.9045,1)" x="0.0 66.0 132.0 198.0 264.0 338.8 396.0 449.8" dy="0.0 0.0 0.0 0.0 0.0 -13.0 13.0 -13.0">time (s)</text>
<text class="ttl" transform="translate(127.3,1129) rotate(-90) scale(0.8962,1)" x="0.0 66.0 132.0 198.0 264.0 330.0 396.0 462.0 528.0 602.9 660.0 726.0 792.0 845.7" dy="0.0 0.0 0.0 0.0 0.0 0.0 0.0 0.0 0.0 -14.0 14.0 -4.0 4.0 -14.0">velocity (m/s)</text>
<g id="legend">
<rect x="1513" y="150.4" width="391.5" height="464.2" fill="#fff" stroke="#000" stroke-width="2.4"/>
<path class="c" style="stroke:#737373" stroke-dasharray="29.5 41.3" d="M1524,202.8 H1686.6"/>
<path class="c" stroke-dasharray="25.5 24 4.5 24 4.5 24.9" d="M1524,292.6 H1686.6"/>
<path class="c" stroke-dasharray="36.3 24.3 4 24.3" d="M1524,382.6 H1686.6"/>
<path class="c" stroke-dasharray="4.2 37.88" d="M1524,472.2 H1686.6"/>
<path class="c" d="M1524,562.0 H1686.6"/>
<text class="lg" transform="scale(0.70,1)" x="2474.9 2527.5 2589.6" y="231.9">SVC</text>
<text class="lg" transform="scale(0.70,1)" x="2484.5 2527.5 2589.6" y="321.9">IVC</text>
<text class="lg" transform="scale(0.70,1)" x="2474.9 2527.5 2589.6 2653.5" y="411.9">SVCP</text>
<text class="lg" transform="scale(0.70,1)" x="2484.5 2527.5 2589.6 2646.5" y="501.9">IVCD</text>
<text class="lg" transform="scale(0.70,1)" x="2472.8 2527.5" y="591.9">TV</text>
</g>
</svg></body></html>
